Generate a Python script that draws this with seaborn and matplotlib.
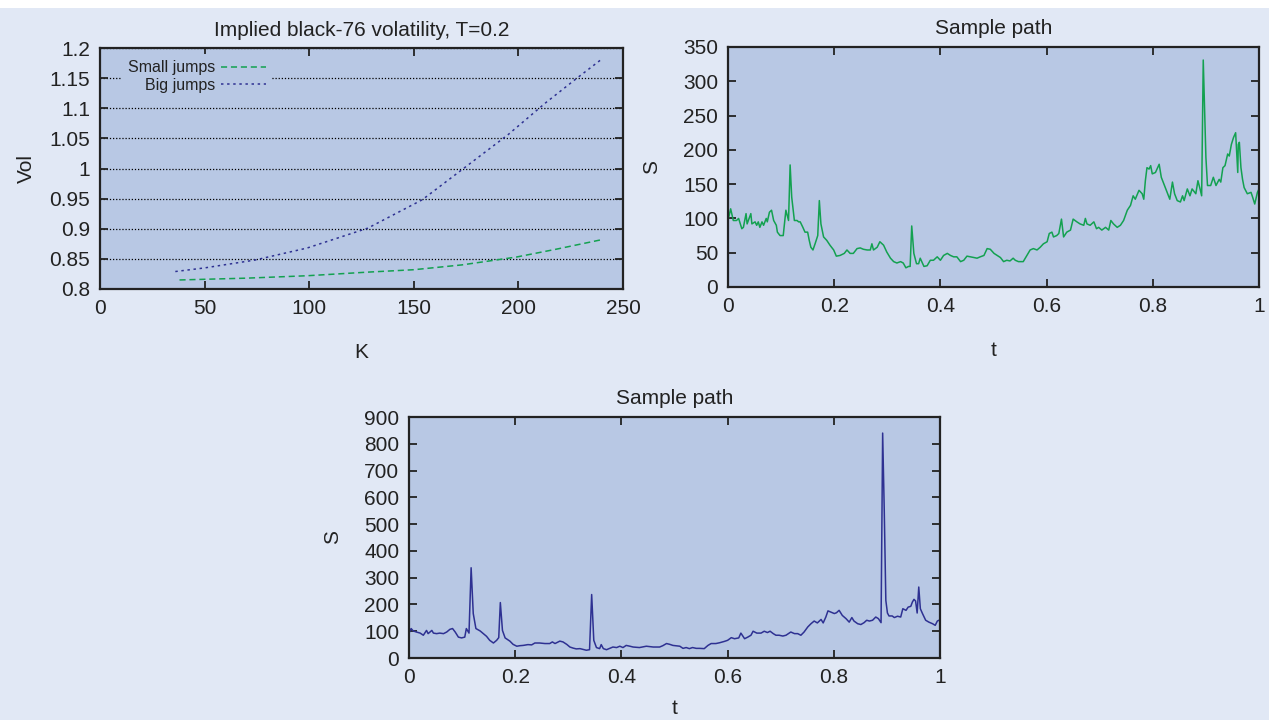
import numpy as np
import pandas as pd
import matplotlib
matplotlib.use("Agg")
import matplotlib.pyplot as plt
import seaborn as sns
from matplotlib.patches import Rectangle
from matplotlib.ticker import FuncFormatter, MultipleLocator

# ---------------- data ----------------
K_small = [38, 70, 99, 128, 150, 173, 199, 218, 240]
vol_small = [0.815, 0.818, 0.822, 0.828, 0.832, 0.840, 0.853, 0.866, 0.882]

K_big = [36, 50, 74, 99, 128, 154, 173, 195, 213, 228, 240]
vol_big = [0.829, 0.835, 0.848, 0.868, 0.901, 0.948, 0.998, 1.056, 1.109, 1.150, 1.182]

t_small = [0.000, 0.005, 0.010, 0.016, 0.020, 0.026, 0.029, 0.034, 0.036, 0.043, 0.045, 0.051,
           0.054, 0.057, 0.060, 0.064, 0.067, 0.072, 0.074, 0.078, 0.082, 0.086, 0.091, 0.093,
           0.098, 0.104, 0.109, 0.114, 0.117, 0.120, 0.125, 0.130, 0.133, 0.136, 0.141, 0.145,
           0.150, 0.153, 0.156, 0.160, 0.164, 0.169, 0.172, 0.175, 0.180, 0.186, 0.192, 0.199,
           0.204, 0.211, 0.219, 0.224, 0.230, 0.236, 0.243, 0.249, 0.255, 0.262, 0.268, 0.271,
           0.274, 0.281, 0.286, 0.293, 0.299, 0.306, 0.312, 0.318, 0.325, 0.330, 0.335, 0.340,
           0.343, 0.346, 0.350, 0.355, 0.359, 0.362, 0.369, 0.375, 0.381, 0.387, 0.394, 0.400,
           0.406, 0.413, 0.419, 0.425, 0.431, 0.438, 0.444, 0.450, 0.457, 0.463, 0.469, 0.475,
           0.482, 0.488, 0.494, 0.501, 0.507, 0.513, 0.519, 0.525, 0.531, 0.537, 0.541, 0.547,
           0.556, 0.563, 0.569, 0.575, 0.582, 0.588, 0.594, 0.601, 0.605, 0.610, 0.613, 0.619,
           0.623, 0.628, 0.632, 0.638, 0.645, 0.650, 0.657, 0.663, 0.670, 0.673, 0.676, 0.682,
           0.689, 0.694, 0.698, 0.704, 0.711, 0.717, 0.721, 0.726, 0.733, 0.739, 0.745, 0.752,
           0.758, 0.763, 0.767, 0.774, 0.780, 0.783, 0.786, 0.789, 0.793, 0.796, 0.799, 0.805,
           0.812, 0.816, 0.821, 0.827, 0.832, 0.837, 0.841, 0.846, 0.852, 0.856, 0.859, 0.865,
           0.870, 0.874, 0.881, 0.885, 0.889, 0.892, 0.895, 0.900, 0.903, 0.909, 0.914, 0.919,
           0.925, 0.928, 0.932, 0.936, 0.941, 0.944, 0.948, 0.952, 0.956, 0.960, 0.961, 0.963,
           0.966, 0.969, 0.972, 0.978, 0.985, 0.988, 0.992, 0.997, 1.000]
S_small = [97, 114, 97, 97, 100, 85, 87, 107, 92, 107, 92, 95,
           90, 95, 87, 95, 90, 100, 95, 109, 112, 97, 90, 80,
           75, 75, 112, 97, 178, 131, 97, 97, 95, 95, 87, 80,
           80, 68, 58, 54, 63, 75, 126, 92, 73, 68, 61, 54,
           45, 46, 49, 54, 49, 49, 56, 57, 55, 54, 54, 63,
           54, 58, 66, 61, 51, 42, 37, 35, 37, 35, 28, 30,
           30, 89, 49, 34, 34, 42, 30, 31, 39, 39, 44, 39,
           46, 49, 46, 44, 44, 37, 39, 45, 44, 43, 42, 44,
           46, 56, 55, 49, 46, 43, 37, 39, 38, 42, 39, 37,
           37, 46, 54, 56, 54, 58, 63, 66, 78, 80, 73, 75,
           78, 99, 73, 80, 83, 99, 95, 92, 90, 100, 92, 90,
           95, 85, 87, 83, 87, 83, 97, 92, 87, 90, 97, 112,
           119, 133, 128, 141, 136, 128, 155, 174, 172, 177, 165, 167,
           179, 160, 150, 138, 128, 153, 136, 126, 124, 133, 126, 143,
           133, 143, 136, 155, 143, 133, 331, 189, 148, 148, 160, 148,
           157, 153, 174, 177, 194, 191, 208, 218, 225, 167, 208, 211,
           174, 157, 145, 136, 138, 131, 121, 138, 143]

t_big = [0.000, 0.004, 0.008, 0.014, 0.021, 0.027, 0.033, 0.036, 0.043, 0.046, 0.052, 0.058,
         0.065, 0.071, 0.077, 0.082, 0.087, 0.093, 0.099, 0.105, 0.108, 0.113, 0.117, 0.121,
         0.126, 0.134, 0.140, 0.146, 0.152, 0.159, 0.165, 0.169, 0.172, 0.176, 0.181, 0.190,
         0.196, 0.203, 0.209, 0.215, 0.224, 0.231, 0.237, 0.246, 0.256, 0.265, 0.270, 0.275,
         0.284, 0.290, 0.297, 0.303, 0.309, 0.315, 0.322, 0.328, 0.334, 0.340, 0.344, 0.348,
         0.353, 0.359, 0.362, 0.366, 0.372, 0.378, 0.384, 0.391, 0.397, 0.403, 0.409, 0.416,
         0.422, 0.434, 0.447, 0.460, 0.472, 0.478, 0.485, 0.491, 0.497, 0.510, 0.516, 0.522,
         0.528, 0.534, 0.541, 0.547, 0.556, 0.563, 0.569, 0.578, 0.585, 0.594, 0.600, 0.607,
         0.613, 0.621, 0.625, 0.632, 0.638, 0.644, 0.648, 0.655, 0.663, 0.669, 0.675, 0.680,
         0.686, 0.691, 0.697, 0.704, 0.710, 0.719, 0.726, 0.732, 0.738, 0.744, 0.751, 0.757,
         0.763, 0.769, 0.776, 0.780, 0.785, 0.789, 0.794, 0.801, 0.805, 0.810, 0.816, 0.823,
         0.829, 0.834, 0.838, 0.845, 0.851, 0.857, 0.862, 0.867, 0.873, 0.879, 0.884, 0.889,
         0.892, 0.895, 0.898, 0.901, 0.904, 0.910, 0.914, 0.920, 0.926, 0.930, 0.936, 0.940,
         0.945, 0.948, 0.951, 0.954, 0.957, 0.960, 0.963, 0.967, 0.973, 0.979, 0.986, 0.991,
         0.995, 0.998]
S_big = [93, 110, 101, 97, 93, 85, 103, 91, 103, 93, 91, 93,
         91, 97, 107, 110, 97, 78, 75, 78, 110, 93, 337, 166,
         110, 101, 91, 81, 66, 56, 66, 76, 207, 103, 75, 63,
         51, 44, 46, 47, 50, 49, 56, 56, 54, 54, 60, 54,
         63, 60, 51, 41, 37, 34, 35, 32, 29, 31, 237, 66,
         39, 35, 50, 35, 31, 36, 41, 39, 44, 39, 47, 44,
         41, 39, 44, 41, 41, 46, 54, 51, 47, 44, 36, 39,
         35, 39, 36, 36, 35, 47, 54, 54, 57, 62, 66, 76,
         72, 75, 93, 72, 78, 85, 100, 93, 93, 100, 95, 100,
         91, 85, 85, 82, 85, 97, 91, 91, 85, 97, 116, 128,
         138, 131, 144, 131, 153, 176, 172, 166, 169, 178, 159, 147,
         134, 151, 138, 128, 125, 132, 141, 138, 141, 153, 147, 132,
         840, 552, 215, 168, 157, 157, 151, 156, 153, 184, 178, 190,
         193, 209, 219, 213, 168, 265, 184, 166, 141, 134, 128, 122,
         138, 141]

# ---------------- style ----------------
sns.set_theme(style="ticks")
plt.rcParams["font.family"] = ["Liberation Sans", "DejaVu Sans"]
FIG_BG = "#E1E8F5"
AX_BG = "#B8C8E4"
GREEN = "#13A150"
BLUE = "#2E3192"
FS = 15

fig = plt.figure(figsize=(12.69, 7.2), dpi=100, facecolor=FIG_BG)
fig.add_artist(Rectangle((0, 1 - 8 / 720), 1, 8 / 720, transform=fig.transFigure,
                         facecolor="white", edgecolor="none"))

ax1 = fig.add_axes([100 / 1269, 1 - 289 / 720, 523 / 1269, 241 / 720])
ax2 = fig.add_axes([728 / 1269, 1 - 287 / 720, 531 / 1269, 240 / 720])
ax3 = fig.add_axes([409 / 1269, 1 - 658 / 720, 531 / 1269, 241 / 720])


def style(ax):
    ax.set_facecolor(AX_BG)
    for s in ax.spines.values():
        s.set_color("#222222")
        s.set_linewidth(1.6)
    ax.tick_params(direction="in", length=6, width=1.3, colors="#222222",
                   labelcolor="#222222", labelsize=FS, top=True, right=True, pad=7)


fmt = FuncFormatter(lambda v, p: f"{v:g}")

# ---- top left: implied vol ----
style(ax1)
sns.lineplot(x=K_small, y=vol_small, ax=ax1, color=GREEN, lw=1.1, label="Small jumps")
ax1.lines[-1].set_dashes((4, 2.5))
sns.lineplot(x=K_big, y=vol_big, ax=ax1, color=BLUE, lw=1.1, label="Big jumps")
ax1.lines[-1].set_dashes((1.6, 2.4))
ax1.set_xlim(0, 250)
ax1.set_ylim(0.8, 1.2)
ax1.xaxis.set_major_locator(MultipleLocator(50))
ax1.yaxis.set_major_locator(MultipleLocator(0.05))
ax1.yaxis.set_major_formatter(fmt)
ax1.yaxis.grid(True, color="black", linestyle=(0, (1, 1.5)), linewidth=0.9)
ax1.set_axisbelow(True)
ax1.set_title("Implied black-76 volatility, T=0.2", fontsize=FS, color="#222222", pad=9)
ax1.set_xlabel("K", fontsize=FS, color="#222222", labelpad=18)
ax1.set_ylabel("Vol", fontsize=FS, color="#222222", labelpad=10)
leg = ax1.legend(loc="upper left", bbox_to_anchor=(0.042, 0.975), markerfirst=False,
                 frameon=True, facecolor=AX_BG, edgecolor=AX_BG, framealpha=1,
                 fontsize=11.5, handlelength=2.8, handletextpad=0.35, labelspacing=0.15,
                 borderaxespad=0, borderpad=0.4, fancybox=False)
leg.get_frame().set_linewidth(0)
for txt in leg.get_texts():
    txt.set_color("#222222")

# ---- top right: sample path (small jumps) ----
style(ax2)
sns.lineplot(x=t_small, y=S_small, ax=ax2, color=GREEN, lw=1.1)
ax2.set_xlim(0, 1)
ax2.set_ylim(0, 350)
ax2.xaxis.set_major_locator(MultipleLocator(0.2))
ax2.yaxis.set_major_locator(MultipleLocator(50))
ax2.xaxis.set_major_formatter(fmt)
ax2.set_title("Sample path", fontsize=FS, color="#222222", pad=9)
ax2.set_xlabel("t", fontsize=FS, color="#222222", labelpad=18)
ax2.set_ylabel("S", fontsize=FS, color="#222222", labelpad=16)

# ---- bottom: sample path (big jumps) ----
style(ax3)
sns.lineplot(x=t_big, y=S_big, ax=ax3, color=BLUE, lw=1.1)
ax3.set_xlim(0, 1)
ax3.set_ylim(0, 900)
ax3.xaxis.set_major_locator(MultipleLocator(0.2))
ax3.yaxis.set_major_locator(MultipleLocator(100))
ax3.xaxis.set_major_formatter(fmt)
ax3.set_title("Sample path", fontsize=FS, color="#222222", pad=9)
ax3.set_xlabel("t", fontsize=FS, color="#222222", labelpad=9)
ax3.set_ylabel("S", fontsize=FS, color="#222222", labelpad=16)

fig.savefig("out.png", dpi=100, facecolor=FIG_BG)
